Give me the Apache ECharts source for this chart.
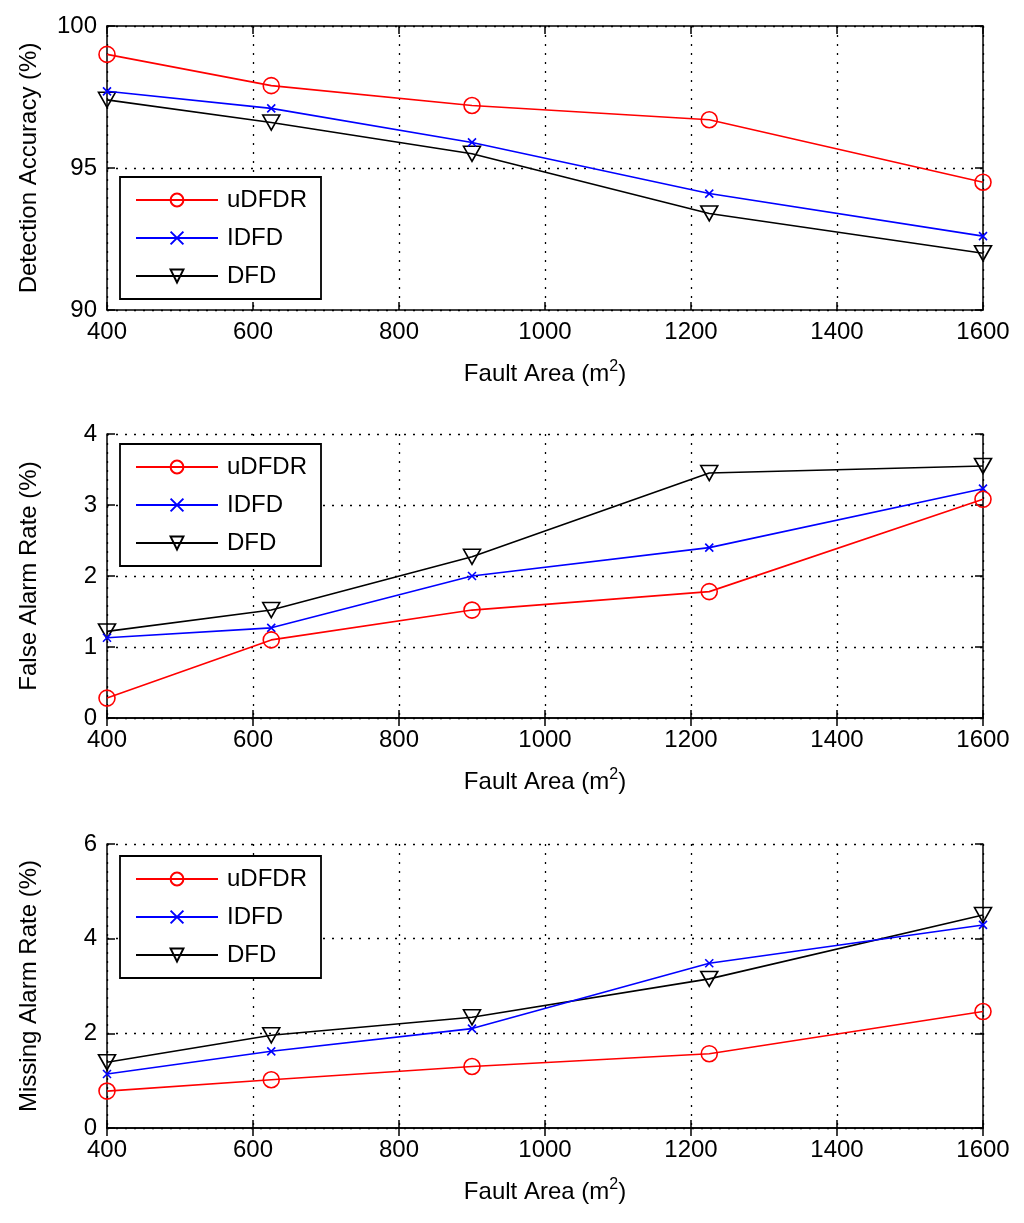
<!DOCTYPE html>
<html>
<head>
<meta charset="utf-8">
<script src="https://cdn.jsdelivr.net/npm/echarts@6/dist/echarts.min.js"></script>
<style>
html,body{margin:0;padding:0;background:#fff;}
#main{width:1024px;height:1223px;}
</style>
</head>
<body>
<div id="main"></div>
<script>
const xValues = [400, 625, 900, 1225, 1600];
const seriesNames = ['uDFDR', 'IDFD', 'DFD'];
const accUDFDR = [99.0, 97.9, 97.2, 96.7, 94.5];
const accIDFD = [97.7, 97.1, 95.9, 94.1, 92.6];
const accDFD = [97.4, 96.6, 95.5, 93.4, 92.0];
const farUDFDR = [0.28, 1.1, 1.52, 1.78, 3.08];
const farIDFD = [1.13, 1.27, 2.0, 2.4, 3.23];
const farDFD = [1.22, 1.52, 2.27, 3.45, 3.55];
const marUDFDR = [0.78, 1.02, 1.3, 1.57, 2.46];
const marIDFD = [1.14, 1.62, 2.1, 3.48, 4.29];
const marDFD = [1.39, 1.96, 2.34, 3.15, 4.5];
const yNames = ['Detection Accuracy (%)', 'False Alarm Rate (%)', 'Missing Alarm Rate (%)'];
const yRanges = [[90, 100, 5], [0, 4, 1], [0, 6, 2]];
const xName = 'Fault Area (m{sup|2})';

const FONT = 'Liberation Sans, Arial, sans-serif';
const panels = [
  [accUDFDR, accIDFD, accDFD],
  [farUDFDR, farIDFD, farDFD],
  [marUDFDR, marIDFD, marDFD]
];
const gridTops = [26, 434, 844];
const legendTops = [177, 444, 856];
const colors = ['#ff0000', '#0000ff', '#000000'];
const symbols = ['circle', 'path://M0,0L10,10M10,0L0,10', 'path://M0,0L12,0L6,10Z'];
const symbolSizes = [16, 8, [17, 15]];

const grids = [], xAxes = [], yAxes = [], series = [], legends = [];
panels.forEach((panel, p) => {
  grids.push({left: 107, right: 41, top: gridTops[p], height: 284, containLabel: false});
  const [mn, mx, iv] = yRanges[p];
  xAxes.push({
    type: 'value', gridIndex: p, min: 400, max: 1600, interval: 200, position: 'bottom',
    name: xName, nameLocation: 'middle', nameGap: 49,
    nameTextStyle: {color: '#000', fontFamily: FONT, fontSize: 24, lineHeight: 30,
      rich: {sup: {fontSize: 16, lineHeight: 16, verticalAlign: 'top', fontFamily: FONT, color: '#000'}}},
    axisLine: {show: true, lineStyle: {color: '#000', width: 1.5}},
    axisTick: {inside: true, length: 8, lineStyle: {color: '#000', width: 1.5}},
    axisLabel: {color: '#000', fontFamily: FONT, fontSize: 24, margin: 10, formatter: v => String(v)},
    splitLine: {show: true, lineStyle: {color: '#000', width: 1.3, type: [2, 7]}}
  });
  xAxes.push({
    type: 'value', gridIndex: p, min: 400, max: 1600, interval: 200, position: 'top',
    axisLine: {show: true, lineStyle: {color: '#000', width: 1.5}},
    axisTick: {inside: true, length: 8, lineStyle: {color: '#000', width: 1.5}},
    axisLabel: {show: false}, splitLine: {show: false}
  });
  yAxes.push({
    type: 'value', gridIndex: p, min: mn, max: mx, interval: iv, position: 'left',
    name: yNames[p], nameLocation: 'middle', nameGap: 66, nameRotate: 90,
    nameTextStyle: {color: '#000', fontFamily: FONT, fontSize: 24},
    axisLine: {show: true, lineStyle: {color: '#000', width: 1.5}},
    axisTick: {inside: true, length: 8, lineStyle: {color: '#000', width: 1.5}},
    axisLabel: {color: '#000', fontFamily: FONT, fontSize: 24, margin: 10, formatter: v => String(v)},
    splitLine: {show: true, lineStyle: {color: '#000', width: 1.3, type: [2, 7]}}
  });
  yAxes.push({
    type: 'value', gridIndex: p, min: mn, max: mx, interval: iv, position: 'right',
    axisLine: {show: true, lineStyle: {color: '#000', width: 1.5}},
    axisTick: {inside: true, length: 8, lineStyle: {color: '#000', width: 1.5}},
    axisLabel: {show: false}, splitLine: {show: false}
  });
  panel.forEach((vals, s) => {
    series.push({
      name: seriesNames[s], type: 'line',
      xAxisIndex: p * 2, yAxisIndex: p * 2,
      data: xValues.map((x, i) => [x, vals[i]]),
      symbol: symbols[s], symbolSize: symbolSizes[s], showAllSymbol: true,
      color: colors[s],
      lineStyle: {color: colors[s], width: 1.6},
      itemStyle: {color: 'rgba(0,0,0,0)', borderColor: colors[s], borderWidth: 1.6},
      emphasis: {disabled: true}, animation: false, z: 3 - s + 2
    });
  });
  legends.push({
    orient: 'vertical', left: 120, top: legendTops[p],
    data: seriesNames, itemWidth: 82, itemHeight: 16, itemGap: 14,
    padding: [11, 14, 11, 15],
    borderColor: '#000', borderWidth: 1.8, backgroundColor: '#fff',
    textStyle: {color: '#000', fontFamily: FONT, fontSize: 24, lineHeight: 24, padding: [0, 0, 0, 4]},
    selectedMode: false, z: 10
  });
});

const chart = echarts.init(document.getElementById('main'), null, {renderer: 'canvas'});
chart.setOption({
  backgroundColor: '#fff',
  animation: false,
  grid: grids, xAxis: xAxes, yAxis: yAxes, series: series, legend: legends
});
</script>
</body>
</html>
